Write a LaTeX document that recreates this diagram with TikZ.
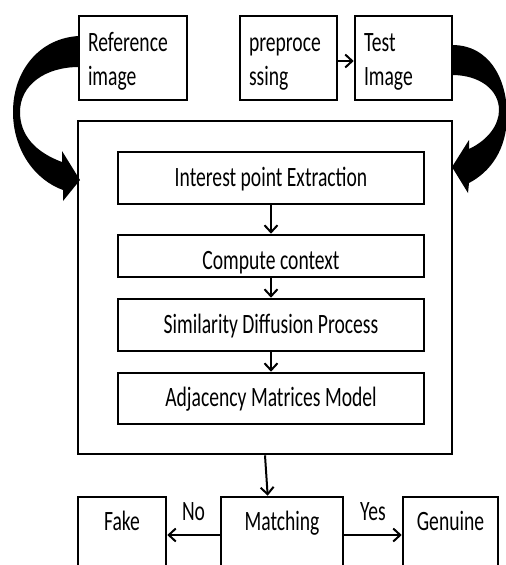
\documentclass[tikz,border=0pt]{standalone}
\usepackage{fontspec}
\setmainfont{Carlito}[FakeStretch=0.7]
\usetikzlibrary{arrows.meta,calc}
\begin{document}
\begin{tikzpicture}[x=1pt,y=-1pt,
  every node/.style={font=\fontsize{28}{34}\selectfont},
  box/.style={draw, line width=2.6pt, rectangle, inner sep=0pt},
  topbox/.style={box, minimum height=84pt, text width=#1, align=left,
    inner xsep=9pt, inner ysep=0pt, text height=23.5pt, text depth=37.5pt},
  inbox/.style={box, minimum width=306pt, text height=20pt, text depth=4pt},
  endbox/.style={box, minimum width=#1, inner ysep=13pt,
    text height=20pt, text depth=30pt},
  conn/.style={line width=2pt, -{Straight Barb[length=7pt,width=13pt]}},
  lbl/.style={anchor=base, inner sep=0pt, yshift=15pt},
  blockarrow/.style={fill=black}]
\clip (0,0) rectangle (506,565);

% big curved arrows feeding the process block
\fill[blockarrow] (79,36) .. controls (40,38) and (13,70) .. (13,112)
  .. controls (13,150) and (35,180) .. (63,190) -- (63,201) -- (80,180)
  -- (62,151) -- (62,162) .. controls (35,152) and (20,135) .. (20,112)
  .. controls (20,85) and (45,67) .. (79,67) -- cycle;
\fill[blockarrow] (452,45) .. controls (490,45) and (507,80) .. (507,115)
  .. controls (507,150) and (490,172) .. (469,183) -- (468,193) -- (452,167)
  -- (469,140) -- (469,149) .. controls (488,140) and (499,125) .. (499,110)
  .. controls (499,90) and (480,75) .. (452,75) -- cycle;

% inputs
\node[topbox=90pt] (ref) at (133,58) {Reference\\image};
\node[topbox=79pt] (pre) at (288.5,58) {preproce\\ssing};
\node[topbox=79pt] (test) at (403.5,58) {Test\\Image};

% process block
\node[box, minimum width=374pt, minimum height=333pt] (outer) at (265,287.5) {};
\node[inbox, minimum height=52pt] (ip) at (271,178) {Interest point Extraction};
\node[inbox, minimum height=42pt, text height=27pt, text depth=1pt] (cc) at (271,256) {Compute context};
\node[inbox, minimum height=52pt] (sd) at (271,325) {Similarity Diffusion Process};
\node[inbox, minimum height=51pt] (am) at (271,398.5) {Adjacency Matrices Model};

% decision
\node[endbox=122pt] (match) at (282,535) {Matching};
\node[endbox=88pt] (fake) at (122,535) {Fake};
\node[endbox=95pt] (gen) at (450.5,535) {Genuine};

% connectors
\draw[conn] ([yshift=-3pt]pre.east) -- ([yshift=-3pt]test.west);
\draw[conn] (ip.south) -- (cc.north);
\draw[conn] (cc.south) -- (sd.north);
\draw[conn] (sd.south) -- (am.north);
\draw[conn] (outer.south) -- ($(match.north west)!0.385!(match.north east)$);
\draw[conn] (match.west) -- node[lbl] {No} (fake.east);
\draw[conn] (match.east) -- node[lbl] {Yes} (gen.west);
\end{tikzpicture}
\end{document}
